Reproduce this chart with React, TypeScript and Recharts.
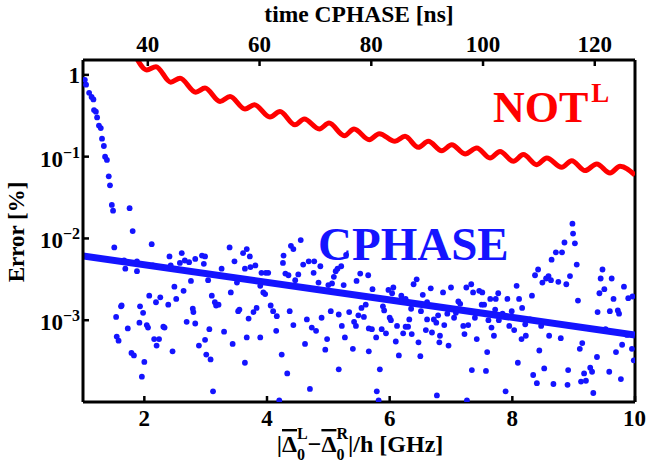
import React from "react";
import { ComposedChart, Line, Scatter, XAxis, YAxis, ReferenceLine } from "recharts";

const FONT = '"Liberation Serif", "Times New Roman", serif';
const RED = "#ff0000";
const BLUE = "#1414ff";

// NOT^L error [%] vs detuning [GHz], read at the crests and troughs of the ripple
const notGHz = [
  1.87, 2.039, 2.19, 2.43, 2.582, 2.838, 2.989, 3.234, 3.397, 3.641, 3.793, 4.049, 4.212, 4.456,
  4.608, 4.853, 5.011, 5.261, 5.419, 5.668, 5.831, 6.087, 6.25, 6.467, 6.63, 6.849, 7.012, 7.229,
  7.419, 7.636, 7.799, 8.016, 8.179, 8.398, 8.561, 8.805, 8.968, 9.185, 9.376, 9.593, 9.756, 10,
];
const notErr = [
  1.62, 1.15, 1.26, 0.815, 0.912, 0.615, 0.689, 0.472, 0.543, 0.382, 0.431, 0.305, 0.356, 0.245,
  0.288, 0.218, 0.258, 0.18, 0.218, 0.161, 0.191, 0.154, 0.177, 0.13, 0.154, 0.118, 0.14, 0.108,
  0.128, 0.0964, 0.116, 0.0877, 0.106, 0.0798, 0.0964, 0.0741, 0.0893, 0.0675, 0.0815, 0.0632,
  0.0762, 0.0596,
];

// CPHASE fitted trend (end points)
const fitGHz = [1, 10];
const fitErr = [0.0061, 0.00066];

// CPHASE simulated points: [detuning GHz, log10(error %)]
const cphasePoints: [number, number][] = [
  [1.03, -0.06], [1.05, -0.12], [1.1, -0.22], [1.14, -0.27], [1.17, -0.3], [1.18, -0.43],
  [1.21, -0.45], [1.23, -0.52], [1.26, -0.62], [1.29, -0.65], [1.31, -0.78], [1.34, -0.87],
  [1.36, -1.0], [1.39, -1.04], [1.42, -1.24], [1.44, -1.35], [1.47, -1.59], [1.49, -1.66],
  [1.76, -1.63],
  [1.51, -2.11], [1.67, -2.27], [1.69, -2.37], [1.73, -3.1], [1.79, -3.4], [1.83, -3.43],
  [1.88, -2.28], [1.88, -2.4], [1.54, -2.96], [1.55, -3.2], [1.58, -3.25], [1.62, -2.83],
  [1.63, -2.82], [1.81, -1.91], [1.93, -2.83], [1.92, -3.03], [1.98, -2.91], [2.0, -3.51],
  [1.96, -3.69], [2.04, -3.06], [2.06, -3.09], [2.08, -2.7], [2.12, -2.07], [2.14, -2.33],
  [2.16, -3.23], [2.2, -3.31], [2.19, -2.78], [2.24, -3.23], [2.26, -2.72], [2.31, -3.08],
  [2.33, -3.09], [2.39, -2.81], [2.41, -2.22], [2.43, -2.33], [2.46, -3.38], [2.49, -2.59],
  [2.52, -2.74], [2.58, -2.3], [2.61, -2.18], [2.64, -2.64], [2.66, -2.27], [2.69, -3.02],
  [2.73, -2.29], [2.76, -2.52], [2.79, -2.86], [2.8, -2.9], [2.83, -3.04], [2.83, -2.25],
  [2.89, -3.31], [2.94, -2.21], [2.97, -2.31], [2.99, -2.22], [3.01, -3.42], [2.99, -3.24],
  [3.04, -2.51], [3.08, -3.48], [3.06, -3.11], [3.1, -2.7], [3.12, -3.87], [3.15, -2.78],
  [3.17, -2.82], [3.21, -2.81], [3.26, -2.37], [3.3, -3.14], [3.39, -2.11], [3.41, -2.66],
  [3.44, -3.29], [3.47, -2.28], [3.51, -2.54], [3.53, -2.89], [3.55, -2.87], [3.61, -2.18],
  [3.64, -2.37], [3.64, -3.52], [3.67, -2.13], [3.7, -2.98], [3.72, -2.22], [3.67, -3.21],
  [3.73, -2.35], [3.78, -2.9], [3.81, -2.33], [3.83, -2.85], [3.89, -3.21], [3.89, -2.58],
  [3.91, -2.42], [3.94, -2.66], [3.97, -2.68], [3.98, -2.42], [4.02, -2.42], [4.06, -2.82],
  [4.1, -2.89], [4.15, -3.13], [4.16, -2.95], [4.2, -3.98], [4.24, -3.42], [4.26, -2.3],
  [4.27, -2.21], [4.3, -2.43], [4.33, -3.65], [4.35, -2.45], [4.37, -2.89], [4.39, -2.09],
  [4.43, -3.06], [4.46, -2.51], [4.43, -2.13], [4.51, -2.44], [4.55, -2.02], [4.59, -2.32],
  [4.62, -3.29], [4.65, -2.99], [4.68, -2.28], [4.7, -3.84], [4.73, -3.09], [4.76, -2.42],
  [4.77, -2.28], [4.8, -3.13], [4.84, -2.54], [4.87, -2.34], [4.89, -2.97], [4.95, -3.36],
  [4.98, -3.23], [5.0, -2.57], [5.06, -2.55], [5.12, -2.4], [5.15, -2.37], [5.09, -2.47],
  [5.04, -2.89],
  [5.21, -2.34], [5.29, -2.2], [5.25, -2.57], [5.17, -2.93], [5.22, -3.07], [5.27, -3.21],
  [5.17, -3.6], [5.34, -2.9], [5.4, -3.35], [5.42, -3.02], [5.45, -3.07], [5.49, -2.94],
  [5.46, -2.52], [5.52, -2.43], [5.54, -2.85], [5.58, -2.96], [5.61, -2.81], [5.65, -2.45],
  [5.72, -2.62], [5.66, -3.1], [5.71, -3.11], [5.78, -3.21], [5.66, -3.38], [5.84, -3.6],
  [5.79, -3.87], [5.82, -3.98], [5.87, -3.11], [5.94, -3.16], [5.89, -2.83], [5.91, -2.88],
  [5.98, -2.63], [6.04, -2.67], [6.06, -2.6], [6.0, -2.97], [6.02, -3.0], [6.12, -3.07],
  [6.1, -3.26], [6.15, -3.43], [6.19, -2.7], [6.2, -2.74], [6.26, -2.74], [6.26, -3.08],
  [6.22, -3.16], [6.32, -2.99], [6.3, -3.08], [6.35, -2.86], [6.39, -2.56], [6.44, -2.5],
  [6.36, -3.17], [6.47, -3.27], [6.5, -3.44], [6.54, -2.69], [6.51, -2.89], [6.61, -2.78],
  [6.61, -2.99], [6.67, -2.61], [6.59, -3.12], [6.69, -3.15], [6.72, -2.99], [6.76, -3.03],
  [6.79, -2.94], [6.82, -3.19], [6.81, -3.27], [6.87, -2.66], [6.89, -3.06], [6.94, -2.92],
  [6.96, -3.31], [7.0, -2.6], [7.05, -2.97], [7.08, -2.91], [7.12, -2.77], [7.15, -2.8],
  [7.2, -3.07], [7.22, -3.17], [7.25, -2.6], [7.28, -3.06], [7.33, -2.56], [7.36, -2.66],
  [7.34, -3.61], [7.42, -3.23], [7.39, -2.97], [7.46, -2.64], [7.51, -2.66], [7.5, -2.81],
  [7.54, -2.81], [7.57, -3.62], [7.59, -3.39], [6.77, -3.92], [7.26, -3.98], [7.61, -3.0],
  [7.64, -2.74], [7.73, -2.74], [7.77, -2.67], [7.72, -2.87], [7.78, -3.0], [7.84, -2.92],
  [7.66, -3.09], [7.7, -3.19], [7.92, -2.74], [7.99, -2.89], [7.95, -3.07], [8.03, -3.12],
  [8.07, -2.58], [8.11, -2.74], [8.16, -2.85], [8.21, -3.05], [8.22, -3.19], [8.15, -3.23],
  [8.09, -3.52], [8.29, -2.99], [8.32, -2.7], [8.34, -3.67], [8.4, -3.77], [7.89, -3.87],
  [8.37, -2.45], [8.42, -2.38], [8.49, -2.54], [8.55, -2.49], [8.59, -2.46], [8.63, -2.51],
  [8.47, -3.07], [8.44, -3.37], [8.6, -3.19], [8.52, -3.59], [8.67, -3.78], [8.64, -2.26],
  [8.71, -2.17], [8.81, -2.17], [8.75, -2.53], [8.85, -2.05], [8.94, -2.46], [8.88, -2.56],
  [8.79, -3.22], [8.9, -3.79], [8.91, -3.61], [8.98, -1.82], [8.99, -1.94], [9.02, -2.06],
  [9.05, -2.32], [9.07, -2.76], [9.14, -3.28], [9.1, -3.35], [9.12, -3.75], [9.17, -3.65],
  [9.2, -3.74], [9.27, -3.58], [9.3, -3.63], [9.32, -3.89], [9.38, -3.45], [9.39, -2.9],
  [9.47, -2.38], [9.44, -2.49], [9.42, -2.67], [9.5, -2.62], [9.52, -3.11], [9.58, -3.63],
  [9.59, -2.89], [9.62, -2.49], [9.65, -2.74], [9.72, -2.88], [9.74, -2.92], [9.69, -3.39],
  [9.79, -3.3], [9.77, -3.72], [9.82, -2.59], [9.89, -2.73], [9.96, -2.71], [9.87, -3.18],
  [9.95, -3.35], [9.98, -3.49],
];

const xTicks = [2, 4, 6, 8, 10];
const timeTicks = [40, 60, 80, 100, 120];
const yTicks = [1, 0.1, 0.01, 0.001];

const notData = notGHz.map((x, i) => ({ x, y: notErr[i] }));
const fitData = fitGHz.map((x, i) => ({ x, y: fitErr[i] }));
const cphaseData = cphasePoints.map(([x, e]) => ({ x, y: 10 ** e }));
// empty series that only gives the top (time) axis something to belong to
const timeAxisData = timeTicks.map((x) => ({ x, y: null }));

const axisLine = { stroke: "#000", strokeWidth: 3 };
const tickLine = { stroke: "#000", strokeWidth: 2.5 };
const tickFont = { fill: "#000", fontSize: 23, fontWeight: "bold", fontFamily: FONT };

const YTick = ({ x, y, payload }: any) => {
  const exp = Math.round(Math.log10(payload.value));
  if (exp === 0) {
    return (
      <text x={x} y={y} dy={8} textAnchor="end" {...tickFont}>
        1
      </text>
    );
  }
  return (
    <text x={x} y={y} dy={10} textAnchor="end" {...tickFont}>
      10
      <tspan dy={-9} fontSize={16}>{`\u2212${-exp}`}</tspan>
    </text>
  );
};

const Dot = (p: any) => <circle cx={p.cx} cy={p.cy} r={2.9} fill={BLUE} />;

export default function App() {
  return (
    <div style={{ position: "absolute", left: 0, top: 0, width: 646, height: 472, background: "#fff" }}>
      <ComposedChart width={646} height={472} margin={{ top: 0, right: 11, bottom: 0, left: 0 }}>
        <XAxis
          dataKey="x"
          type="number"
          domain={[1, 10]}
          allowDataOverflow
          ticks={xTicks}
          height={70}
          axisLine={axisLine}
          tickLine={tickLine}
          tickSize={-6}
          tickMargin={14}
          tick={tickFont}
        />
        <XAxis
          xAxisId="top"
          dataKey="x"
          orientation="top"
          type="number"
          domain={[28.4, 127.2]}
          allowDataOverflow
          ticks={timeTicks}
          height={60}
          axisLine={axisLine}
          tickLine={tickLine}
          tickSize={-6}
          tickMargin={14}
          tick={tickFont}
        />
        <YAxis
          dataKey="y"
          type="number"
          scale="log"
          domain={[1e-4, 1.52]}
          allowDataOverflow
          ticks={yTicks}
          width={83}
          axisLine={axisLine}
          tickLine={tickLine}
          tickSize={-6}
          tickMargin={9}
          tick={<YTick />}
        />
        <ReferenceLine x={10} stroke="#000" strokeWidth={3} />
        <Line
          xAxisId="top"
          data={timeAxisData}
          dataKey="y"
          stroke="none"
          dot={false}
          legendType="none"
          isAnimationActive={false}
        />
        <Line
          data={notData}
          dataKey="y"
          type="monotone"
          stroke={RED}
          strokeWidth={5}
          dot={false}
          isAnimationActive={false}
        />
        <Scatter data={cphaseData} dataKey="y" shape={Dot} isAnimationActive={false} />
        <Line
          data={fitData}
          dataKey="y"
          type="linear"
          stroke={BLUE}
          strokeWidth={7}
          dot={false}
          isAnimationActive={false}
        />
      </ComposedChart>
      <svg
        width={646}
        height={472}
        style={{ position: "absolute", left: 0, top: 0, pointerEvents: "none" }}
        fontFamily={FONT}
        fontWeight="bold"
      >
        <text x={359} y={22} fontSize={23.5} textAnchor="middle">
          time CPHASE [ns]
        </text>
        <text transform="translate(24,232) rotate(-90)" fontSize={23} textAnchor="middle">
          Error [%]
        </text>
        <text x={360} y={452} fontSize={24} textAnchor="middle">
          |<tspan style={{ textDecoration: "overline" }}>Δ</tspan>
          <tspan dy={8} fontSize={16}>0</tspan>
          <tspan dx={-8} dy={-21} fontSize={16}>L</tspan>
          <tspan dy={13}>−</tspan>
          <tspan style={{ textDecoration: "overline" }}>Δ</tspan>
          <tspan dy={8} fontSize={16}>0</tspan>
          <tspan dx={-8} dy={-21} fontSize={16}>R</tspan>
          <tspan dy={13}>|/h [GHz]</tspan>
        </text>
        <text x={493} y={122} fontSize={44} fill={RED}>
          NOT<tspan dx={3} dy={-20} fontSize={27}>L</tspan>
        </text>
        <text x={318} y={260} fontSize={47} fill={BLUE}>
          CPHASE
        </text>
      </svg>
    </div>
  );
}
